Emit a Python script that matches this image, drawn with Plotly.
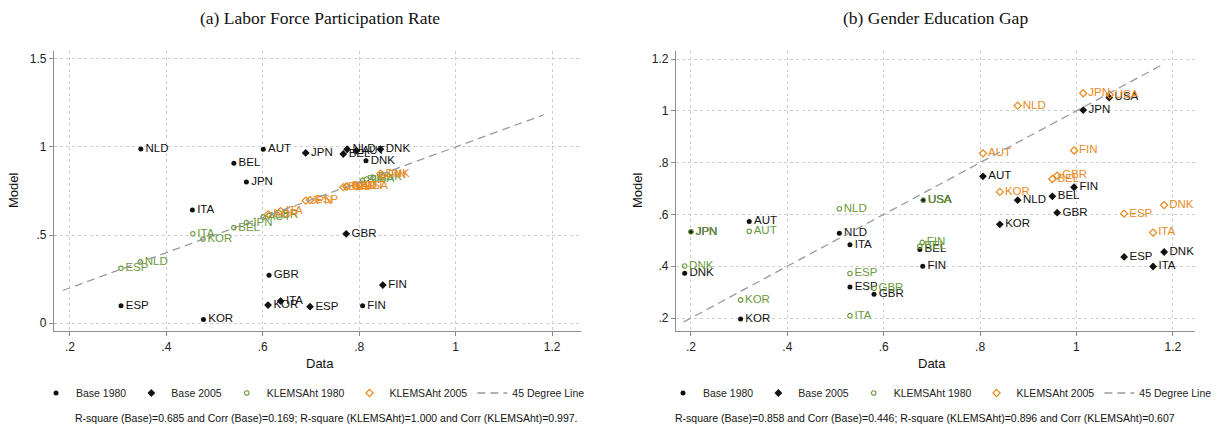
import plotly.graph_objects as go

# ---------------- data: (a) Labor Force Participation Rate ----------------
lf_base80_cty = ["NLD", "BEL", "JPN", "ITA", "ESP", "KOR", "AUT", "GBR", "FIN", "DNK"]
lf_base80_x = [0.347, 0.540, 0.566, 0.454, 0.306, 0.477, 0.601, 0.613, 0.807, 0.814]
lf_base80_y = [0.989, 0.907, 0.801, 0.642, 0.098, 0.021, 0.987, 0.271, 0.098, 0.922]

lf_base05_cty = ["JPN", "BEL", "NLD", "AUT", "DNK", "GBR", "ITA", "KOR", "ESP", "FIN"]
lf_base05_x = [0.689, 0.767, 0.775, 0.794, 0.844, 0.773, 0.637, 0.611, 0.698, 0.849]
lf_base05_y = [0.966, 0.960, 0.987, 0.979, 0.987, 0.507, 0.125, 0.102, 0.093, 0.216]

lf_klems80_cty = ["ESP", "NLD", "ITA", "KOR", "BEL", "JPN", "AUT", "GBR", "FIN", "USA", "DNK"]
lf_klems80_x = [0.306, 0.346, 0.455, 0.476, 0.540, 0.566, 0.601, 0.613, 0.807, 0.815, 0.829]
lf_klems80_y = [0.311, 0.347, 0.507, 0.477, 0.542, 0.570, 0.603, 0.612, 0.810, 0.818, 0.826]

lf_klems05_cty = ["KOR", "ITA", "JPN", "ESP", "BEL", "GBR", "NLD", "AUT", "USA", "DNK", "FIN"]
lf_klems05_x = [0.611, 0.637, 0.689, 0.698, 0.767, 0.773, 0.775, 0.794, 0.800, 0.844, 0.849]
lf_klems05_y = [0.617, 0.636, 0.695, 0.699, 0.772, 0.775, 0.776, 0.776, 0.780, 0.848, 0.838]

# ---------------- data: (b) Gender Education Gap ----------------
ed_base80_cty = ["JPN", "AUT", "DNK", "KOR", "NLD", "ITA", "ESP", "GBR", "BEL", "FIN", "USA"]
ed_base80_x = [0.200, 0.321, 0.187, 0.303, 0.508, 0.530, 0.530, 0.580, 0.675, 0.681, 0.682]
ed_base80_y = [0.533, 0.573, 0.373, 0.196, 0.527, 0.483, 0.320, 0.292, 0.465, 0.400, 0.655]

ed_base05_cty = ["AUT", "KOR", "NLD", "JPN", "USA", "FIN", "BEL", "GBR", "ESP", "DNK", "ITA"]
ed_base05_x = [0.806, 0.841, 0.878, 1.014, 1.068, 0.995, 0.950, 0.960, 1.099, 1.182, 1.159]
ed_base05_y = [0.747, 0.562, 0.655, 1.003, 1.051, 0.705, 0.670, 0.607, 0.436, 0.455, 0.399]

ed_klems80_cty = ["JPN", "AUT", "DNK", "KOR", "NLD", "ESP", "ITA", "GBR", "FIN", "BEL", "USA"]
ed_klems80_x = [0.200, 0.321, 0.187, 0.303, 0.508, 0.530, 0.530, 0.580, 0.680, 0.675, 0.682]
ed_klems80_y = [0.533, 0.535, 0.401, 0.270, 0.622, 0.372, 0.209, 0.315, 0.492, 0.477, 0.655]

ed_klems05_cty = ["AUT", "KOR", "NLD", "JPN", "USA", "FIN", "BEL", "GBR", "ESP", "DNK", "ITA"]
ed_klems05_x = [0.806, 0.841, 0.878, 1.014, 1.069, 0.995, 0.950, 0.960, 1.099, 1.182, 1.159]
ed_klems05_y = [0.836, 0.687, 1.020, 1.068, 1.062, 0.847, 0.737, 0.750, 0.603, 0.636, 0.530]

line45 = [0.185, 1.183]

lf_ticks_x = [0.2, 0.4, 0.6, 0.8, 1.0, 1.2]
lf_ticktext_x = [".2", ".4", ".6", ".8", "1", "1.2"]
lf_ticks_y = [0, 0.5, 1.0, 1.5]
lf_ticktext_y = ["0", ".5", "1", "1.5"]
ed_ticks_x = [0.2, 0.4, 0.6, 0.8, 1.0, 1.2]
ed_ticktext_x = [".2", ".4", ".6", ".8", "1", "1.2"]
ed_ticks_y = [0.2, 0.4, 0.6, 0.8, 1.0, 1.2]
ed_ticktext_y = [".2", ".4", ".6", ".8", "1", "1.2"]

titles = ["(a) Labor Force Participation Rate", "(b) Gender Education Gap"]
notes = [
    "R-square (Base)=0.685 and Corr (Base)=0.169; R-square (KLEMSAht)=1.000 and Corr (KLEMSAht)=0.997.",
    "R-square (Base)=0.858 and Corr (Base)=0.446; R-square (KLEMSAht)=0.896 and Corr (KLEMSAht)=0.607",
]

# ---------------- styling ----------------
W, H = 1217, 429
SANS = "Liberation Sans, Arial, Helvetica, sans-serif"
SERIF = "Liberation Serif, Times New Roman, serif"
BLACK = "#111111"
GREEN = "#6a9a3c"
ORANGE = "#e8891c"
GRID = "#cfcfcf"
AXIS = "#8c8c8c"


def px_x(p):
    return p / W


def px_y(p):
    return 1 - p / H


fig = go.Figure()

# name, symbol, colour, size, outline width
series_style = [
    ("Base 1980", "circle", BLACK, 5, 0),
    ("Base 2005", "diamond", BLACK, 6, 0),
    ("KLEMSAht 1980", "circle-open", GREEN, 4.5, 1.2),
    ("KLEMSAht 2005", "diamond-open", ORANGE, 5.5, 1.2),
]

panels = [
    ("x", "y", "legend", [
        (lf_base80_x, lf_base80_y, lf_base80_cty),
        (lf_base05_x, lf_base05_y, lf_base05_cty),
        (lf_klems80_x, lf_klems80_y, lf_klems80_cty),
        (lf_klems05_x, lf_klems05_y, lf_klems05_cty),
    ]),
    ("x2", "y2", "legend2", [
        (ed_base80_x, ed_base80_y, ed_base80_cty),
        (ed_base05_x, ed_base05_y, ed_base05_cty),
        (ed_klems80_x, ed_klems80_y, ed_klems80_cty),
        (ed_klems05_x, ed_klems05_y, ed_klems05_cty),
    ]),
]

for xa, ya, leg, data in panels:
    line_trace = go.Scatter(
        x=line45, y=line45, mode="lines", name="45 Degree Line",
        line=dict(color="#9a9a9a", width=1.3, dash="8px,5px"),
        xaxis=xa, yaxis=ya, legend=leg, hoverinfo="skip",
        legendrank=5,
    )
    for i, ((xs, ys, labs), (name, sym, col, size, lw)) in enumerate(zip(data, series_style)):
        fig.add_trace(go.Scatter(
            x=xs, y=ys, mode="markers", name=name,
            marker=dict(symbol=sym, size=size, color=col, line=dict(width=lw, color=col)),
            xaxis=xa, yaxis=ya, legend=leg, legendrank=i + 1,
        ))
        fig.add_trace(go.Scatter(
            x=xs, y=ys, mode="markers+text", text=labs, textposition="middle right",
            textfont=dict(family=SANS, size=11.5, color=col),
            marker=dict(size=size + 1, color="rgba(0,0,0,0)"),
            xaxis=xa, yaxis=ya, showlegend=False, hoverinfo="skip",
        ))
    fig.add_trace(line_trace)

axis_common = dict(
    showgrid=True, gridcolor=GRID, griddash="dot", gridwidth=1,
    showline=True, linecolor=AXIS, linewidth=1.2,
    ticks="outside", ticklen=4, tickcolor=AXIS, tickwidth=1.2,
    zeroline=False, tickfont=dict(family=SANS, size=12, color="#222222"),
    fixedrange=True,
)

y_dom = [px_y(331), px_y(51)]

fig.update_layout(
    width=W, height=H,
    margin=dict(l=0, r=0, t=0, b=0),
    paper_bgcolor="white", plot_bgcolor="white",
    showlegend=True,
    xaxis=dict(domain=[px_x(54), px_x(581)], range=[0.167, 1.26], anchor="y",
               tickvals=lf_ticks_x, ticktext=lf_ticktext_x, **axis_common),
    yaxis=dict(domain=y_dom, range=[-0.045, 1.545], anchor="x",
               tickvals=lf_ticks_y, ticktext=lf_ticktext_y, **axis_common),
    xaxis2=dict(domain=[px_x(676), px_x(1195)], range=[0.169, 1.246], anchor="y2",
                tickvals=ed_ticks_x, ticktext=ed_ticktext_x, **axis_common),
    yaxis2=dict(domain=y_dom, range=[0.15, 1.231], anchor="x2",
                tickvals=ed_ticks_y, ticktext=ed_ticktext_y, **axis_common),
    legend=dict(orientation="h", x=px_x(313), xanchor="center", y=px_y(393), yanchor="middle",
                font=dict(family=SANS, size=10.5, color="#222"), itemwidth=30,
                bgcolor="rgba(0,0,0,0)", traceorder="normal"),
    legend2=dict(orientation="h", x=px_x(940), xanchor="center", y=px_y(393), yanchor="middle",
                 font=dict(family=SANS, size=10.5, color="#222"), itemwidth=30,
                 bgcolor="rgba(0,0,0,0)", traceorder="normal"),
)

ann = []
for cx, t in zip([320, 935], titles):
    ann.append(dict(x=px_x(cx), y=px_y(18), xref="paper", yref="paper", text=t, showarrow=False,
                    font=dict(family=SERIF, size=17.5, color="#111"), xanchor="center", yanchor="middle"))
for cx in [13, 637]:
    ann.append(dict(x=px_x(cx), y=px_y(190), xref="paper", yref="paper", text="Model", showarrow=False,
                    textangle=-90, font=dict(family=SANS, size=13, color="#111"),
                    xanchor="center", yanchor="middle"))
for cx in [320, 932]:
    ann.append(dict(x=px_x(cx), y=px_y(363), xref="paper", yref="paper", text="Data", showarrow=False,
                    font=dict(family=SANS, size=13, color="#111"), xanchor="center", yanchor="middle"))
for cx, t in zip([326, 925], notes):
    ann.append(dict(x=px_x(cx), y=px_y(418), xref="paper", yref="paper", text=t, showarrow=False,
                    font=dict(family=SANS, size=10.5, color="#111"), xanchor="center", yanchor="middle"))
fig.update_layout(annotations=ann)

fig.write_html("out.html", config={"displayModeBar": False},
               post_script="document.body.style.margin='0px';")
